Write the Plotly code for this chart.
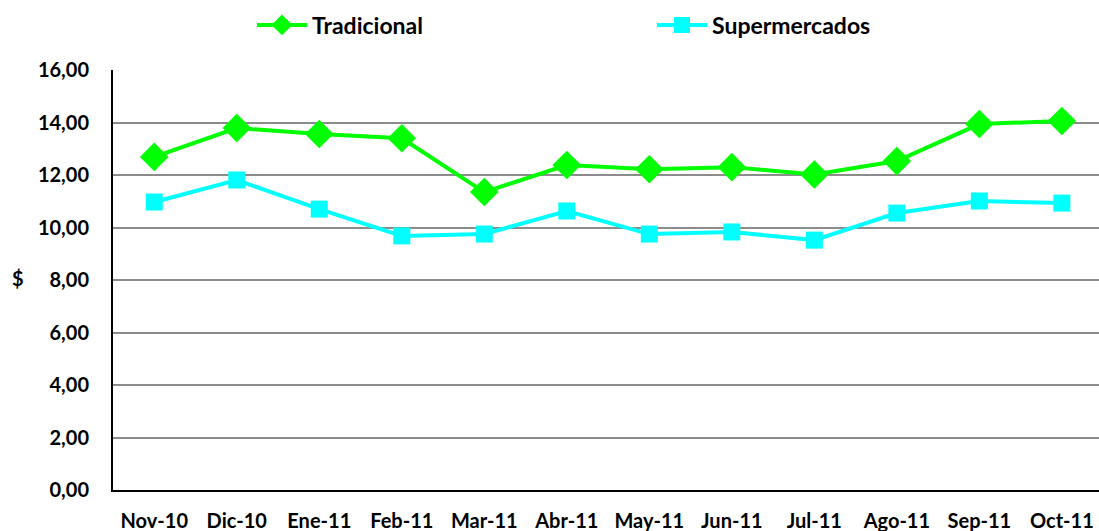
import plotly.graph_objects as go

categories = ["Nov-10", "Dic-10", "Ene-11", "Feb-11", "Mar-11", "Abr-11",
              "May-11", "Jun-11", "Jul-11", "Ago-11", "Sep-11", "Oct-11"]
tradicional = [12.69, 13.79, 13.56, 13.40, 11.35, 12.38, 12.22, 12.30, 12.02, 12.53, 13.94, 14.06]
supermercados = [10.97, 11.81, 10.70, 9.68, 9.75, 10.63, 9.75, 9.83, 9.52, 10.55, 11.01, 10.93]
y_ticks = [0, 2, 4, 6, 8, 10, 12, 14, 16]
y_tick_text = ["0,00", "2,00", "4,00", "6,00", "8,00", "10,00", "12,00", "14,00", "16,00"]

FONT = "Lato"
W, H = 1099, 531
L, T, B, R = 113, 70, 41, 0

fig = go.Figure()
fig.add_trace(go.Scatter(
    x=categories, y=tradicional, name="Tradicional", mode="lines+markers",
    line=dict(color="#00FF00", width=4),
    marker=dict(symbol="diamond", size=22, color="#00FF00"),
))
fig.add_trace(go.Scatter(
    x=categories, y=supermercados, name="Supermercados", mode="lines+markers",
    line=dict(color="#00FFFF", width=4),
    marker=dict(symbol="square", size=17, color="#00FFFF"),
))

fig.update_layout(
    width=W, height=H,
    margin=dict(l=L, r=R, t=T, b=B, pad=0, autoexpand=False),
    paper_bgcolor="white", plot_bgcolor="white",
    font=dict(family=FONT, size=16, color="black"),
    showlegend=True,
    legend=dict(
        orientation="h", yanchor="middle", xanchor="left",
        x=252 / W, y=1 - 25 / H, xref="container", yref="container",
        font=dict(family=FONT, size=23, color="black", weight="bold"),
        bgcolor="rgba(0,0,0,0)", itemwidth=50,
        entrywidth=335, entrywidthmode="pixels",
    ),
    xaxis=dict(
        type="category", range=[-0.5, 11.45], automargin=False,
        showline=True, linecolor="black", linewidth=2,
        showgrid=False, ticks="", ticklabelstandoff=12,
        tickfont=dict(family=FONT, size=20, color="black", weight="bold"),
    ),
    yaxis=dict(
        range=[0, 16], tickvals=y_ticks, ticktext=y_tick_text, automargin=False,
        showline=True, linecolor="black", linewidth=2,
        showgrid=True, gridcolor="#8c8c8c", gridwidth=2,
        zeroline=False, ticks="", ticklabelstandoff=18,
        tickfont=dict(family=FONT, size=20, color="black", weight="bold"),
    ),
    annotations=[dict(
        text="$", xref="paper", yref="paper", showarrow=False,
        x=(18 - L) / (W - L - R), y=(490 - 278) / (H - T - B),
        xanchor="center", yanchor="middle",
        font=dict(family=FONT, size=20, color="black", weight="bold"),
    )],
)

fig.write_html(
    "out.html",
    config={"displayModeBar": False},
    post_script="document.body.style.margin='0';document.body.style.overflow='hidden';",
)
